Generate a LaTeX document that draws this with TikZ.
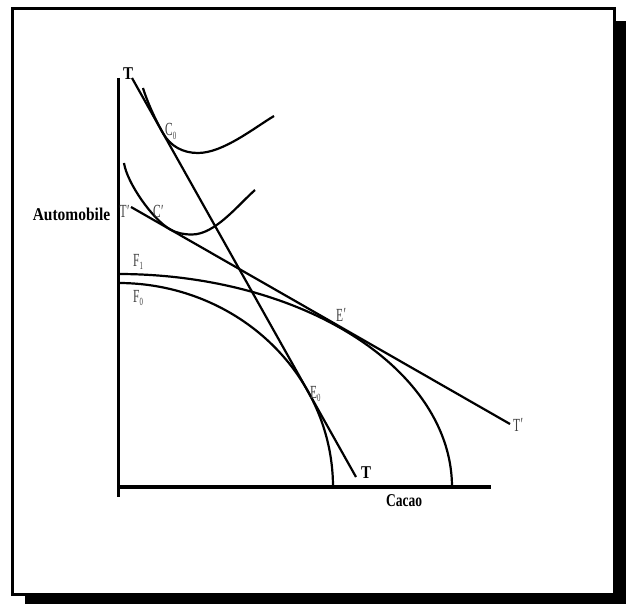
\documentclass[tikz,border=0pt]{standalone}
\usepackage{graphicx}
\usepackage{fontspec}
\setmainfont{Liberation Serif}
\newcommand{\lsub}[1]{\raisebox{-3.5pt}{\fontsize{11}{11}\selectfont #1}}
\newcommand{\lpr}{\kern0.5pt\raisebox{1pt}{′}}
\begin{document}
\begin{tikzpicture}[x=1pt,y=-1pt,
  curve/.style={line width=2.2pt},
  axis/.style={line width=3.2pt},
  lbl/.style={font=\fontsize{18.5}{18.5}\selectfont, text=black!75, inner sep=0pt, anchor=base west},
  blbl/.style={font=\fontsize{18}{18}\selectfont\bfseries, inner sep=0pt, anchor=base}]
\useasboundingbox (0,0) rectangle (626,604);
% shadow and frame
\fill[black] (25,21) rectangle (626,604);
\draw[line width=2.5pt, fill=white] (12.5,8.5) rectangle (614.5,594.5);
% axes
\coordinate (Ytop) at (118.5,78);
\coordinate (Ybot) at (118.5,497);
\coordinate (Xbeg) at (117,487);
\coordinate (Xend) at (491,487);
\draw[axis] (Ytop) -- (Ybot);
\draw[axis] (Xbeg) -- (Xend);
% production frontiers
\draw[curve] plot[domain=90:0, samples=90] ({118.5+214.5*cos(\x)},{487-204*sin(\x)});
\draw[curve] plot[domain=90:0, samples=90] ({118.5+333.5*cos(\x)},{487-213*sin(\x)});
% price lines
\coordinate (T1) at (132,78);
\coordinate (T2) at (356,477);
\coordinate (Tp1) at (131,207);
\coordinate (Tp2) at (510,424);
\draw[curve] (T1) -- (T2);
\draw[curve] (Tp1) -- (Tp2);
% indifference curves
\draw[curve] (143,88) .. controls (147.4,102.4) and (155.6,120.1) .. (163,133.2)
  .. controls (170.4,146.3) and (183,153) .. (198,153)
  .. controls (223,153) and (254,128) .. (274,116);
\draw[curve] (124,163) .. controls (127,183) and (152.6,219.4) .. (170,229.3)
  .. controls (177,233.3) and (184,234.5) .. (192,234.5)
  .. controls (215,234.5) and (238,205) .. (255,190);
% labels
\node[blbl] (lTtop) at (128,80) {\scalebox{0.83}[1]{T}};
\node[blbl] (lTbot) at (366,478) {\scalebox{0.83}[1]{T}};
\node[blbl] (lAuto) at (71.5,220) {\scalebox{0.86}[1]{Automobile}};
\node[blbl] (lCacao) at (404,506) {\scalebox{0.75}[1]{Cacao}};
\node[lbl] (lC0) at (165,136) {\scalebox{0.62}[1]{C\lsub{0}}};
\node[lbl] (lTpl) at (119.5,218) {\scalebox{0.62}[1]{T\lpr}};
\node[lbl] (lCp) at (153,218) {\scalebox{0.62}[1]{C\lpr}};
\node[lbl] (lF1) at (133,266) {\scalebox{0.62}[1]{F\lsub{1}}};
\node[lbl] (lF0) at (133,302) {\scalebox{0.62}[1]{F\lsub{0}}};
\node[lbl] (lEp) at (336,321) {\scalebox{0.62}[1]{E\lpr}};
\node[lbl] (lE0) at (310,398) {\scalebox{0.62}[1]{E\lsub{0}}};
\node[lbl] (lTpr) at (513,431) {\scalebox{0.62}[1]{T\lpr}};
\end{tikzpicture}
\end{document}
